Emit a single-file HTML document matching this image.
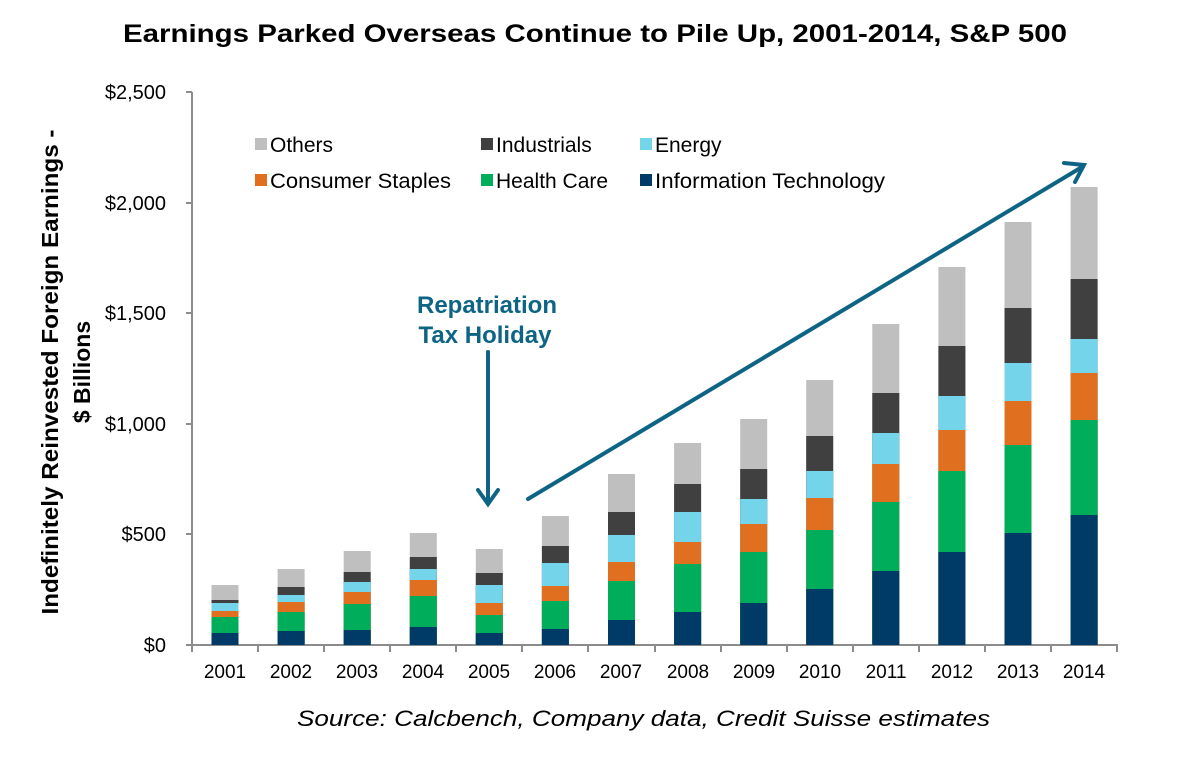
<!DOCTYPE html>
<html><head><meta charset="utf-8"><style>
body{margin:0;background:#fff;}
svg{display:block;font-family:"Liberation Sans",Arial,sans-serif;}
</style></head><body>
<svg width="1186" height="760" viewBox="0 0 1186 760" xmlns="http://www.w3.org/2000/svg">
<text x="123" y="42" font-size="25" font-weight="bold" textLength="944" lengthAdjust="spacingAndGlyphs">Earnings Parked Overseas Continue to Pile Up, 2001-2014, S&amp;P 500</text>
<g font-size="20" text-anchor="end">
<text x="166" y="652">$0</text><text x="166" y="541">$500</text><text x="166" y="431">$1,000</text>
<text x="166" y="320">$1,500</text><text x="166" y="210">$2,000</text><text x="166" y="99">$2,500</text>
</g>
<g transform="translate(58,372) rotate(-90)" font-size="23" font-weight="bold" text-anchor="middle">
<text x="0" y="0" textLength="485" lengthAdjust="spacingAndGlyphs">Indefinitely Reinvested Foreign Earnings -</text>
<text x="0" y="32">$ Billions</text>
</g>
<g stroke="#8c8c8c" stroke-width="2" fill="none">
<line x1="192" y1="92" x2="192" y2="646"/>
<line x1="191" y1="645" x2="1118" y2="645"/>
<line x1="186" y1="92" x2="192" y2="92"/><line x1="186" y1="203" x2="192" y2="203"/>
<line x1="186" y1="313" x2="192" y2="313"/><line x1="186" y1="424" x2="192" y2="424"/>
<line x1="186" y1="534" x2="192" y2="534"/><line x1="186" y1="645" x2="192" y2="645"/>
<line x1="192" y1="645" x2="192" y2="652"/><line x1="258" y1="645" x2="258" y2="652"/>
<line x1="324" y1="645" x2="324" y2="652"/><line x1="390" y1="645" x2="390" y2="652"/>
<line x1="456" y1="645" x2="456" y2="652"/><line x1="522" y1="645" x2="522" y2="652"/>
<line x1="588" y1="645" x2="588" y2="652"/><line x1="655" y1="645" x2="655" y2="652"/>
<line x1="721" y1="645" x2="721" y2="652"/><line x1="787" y1="645" x2="787" y2="652"/>
<line x1="853" y1="645" x2="853" y2="652"/><line x1="919" y1="645" x2="919" y2="652"/>
<line x1="985" y1="645" x2="985" y2="652"/><line x1="1051" y1="645" x2="1051" y2="652"/>
<line x1="1117" y1="645" x2="1117" y2="652"/>
</g>
<!-- bars: layered from bottom of stack order; each rect to baseline -->
<g>
<g transform="translate(211.5,0)"><rect y="585" width="27" height="60" fill="#bfbfbf"/><rect y="600" width="27" height="45" fill="#404040"/><rect y="603" width="27" height="42" fill="#74d4ea"/><rect y="611" width="27" height="34" fill="#e07020"/><rect y="617" width="27" height="28" fill="#00ad5a"/><rect y="633" width="27" height="12" fill="#003a66"/></g>
<g transform="translate(277.6,0)"><rect y="569" width="27" height="76" fill="#bfbfbf"/><rect y="587" width="27" height="58" fill="#404040"/><rect y="595" width="27" height="50" fill="#74d4ea"/><rect y="602" width="27" height="43" fill="#e07020"/><rect y="612" width="27" height="33" fill="#00ad5a"/><rect y="631" width="27" height="14" fill="#003a66"/></g>
<g transform="translate(343.7,0)"><rect y="551" width="27" height="94" fill="#bfbfbf"/><rect y="572" width="27" height="73" fill="#404040"/><rect y="582" width="27" height="63" fill="#74d4ea"/><rect y="592" width="27" height="53" fill="#e07020"/><rect y="604" width="27" height="41" fill="#00ad5a"/><rect y="630" width="27" height="15" fill="#003a66"/></g>
<g transform="translate(409.8,0)"><rect y="533" width="27" height="112" fill="#bfbfbf"/><rect y="557" width="27" height="88" fill="#404040"/><rect y="569" width="27" height="76" fill="#74d4ea"/><rect y="580" width="27" height="65" fill="#e07020"/><rect y="596" width="27" height="49" fill="#00ad5a"/><rect y="627" width="27" height="18" fill="#003a66"/></g>
<g transform="translate(475.8,0)"><rect y="549" width="27" height="96" fill="#bfbfbf"/><rect y="573" width="27" height="72" fill="#404040"/><rect y="585" width="27" height="60" fill="#74d4ea"/><rect y="603" width="27" height="42" fill="#e07020"/><rect y="615" width="27" height="30" fill="#00ad5a"/><rect y="633" width="27" height="12" fill="#003a66"/></g>
<g transform="translate(541.9,0)"><rect y="516" width="27" height="129" fill="#bfbfbf"/><rect y="546" width="27" height="99" fill="#404040"/><rect y="563" width="27" height="82" fill="#74d4ea"/><rect y="586" width="27" height="59" fill="#e07020"/><rect y="601" width="27" height="44" fill="#00ad5a"/><rect y="629" width="27" height="16" fill="#003a66"/></g>
<g transform="translate(608,0)"><rect y="474" width="27" height="171" fill="#bfbfbf"/><rect y="512" width="27" height="133" fill="#404040"/><rect y="535" width="27" height="110" fill="#74d4ea"/><rect y="562" width="27" height="83" fill="#e07020"/><rect y="581" width="27" height="64" fill="#00ad5a"/><rect y="620" width="27" height="25" fill="#003a66"/></g>
<g transform="translate(674.1,0)"><rect y="443" width="27" height="202" fill="#bfbfbf"/><rect y="484" width="27" height="161" fill="#404040"/><rect y="512" width="27" height="133" fill="#74d4ea"/><rect y="542" width="27" height="103" fill="#e07020"/><rect y="564" width="27" height="81" fill="#00ad5a"/><rect y="612" width="27" height="33" fill="#003a66"/></g>
<g transform="translate(740.2,0)"><rect y="419" width="27" height="226" fill="#bfbfbf"/><rect y="469" width="27" height="176" fill="#404040"/><rect y="499" width="27" height="146" fill="#74d4ea"/><rect y="524" width="27" height="121" fill="#e07020"/><rect y="552" width="27" height="93" fill="#00ad5a"/><rect y="603" width="27" height="42" fill="#003a66"/></g>
<g transform="translate(806.2,0)"><rect y="380" width="27" height="265" fill="#bfbfbf"/><rect y="436" width="27" height="209" fill="#404040"/><rect y="471" width="27" height="174" fill="#74d4ea"/><rect y="498" width="27" height="147" fill="#e07020"/><rect y="530" width="27" height="115" fill="#00ad5a"/><rect y="589" width="27" height="56" fill="#003a66"/></g>
<g transform="translate(872.3,0)"><rect y="324" width="27" height="321" fill="#bfbfbf"/><rect y="393" width="27" height="252" fill="#404040"/><rect y="433" width="27" height="212" fill="#74d4ea"/><rect y="464" width="27" height="181" fill="#e07020"/><rect y="502" width="27" height="143" fill="#00ad5a"/><rect y="571" width="27" height="74" fill="#003a66"/></g>
<g transform="translate(938.4,0)"><rect y="267" width="27" height="378" fill="#bfbfbf"/><rect y="346" width="27" height="299" fill="#404040"/><rect y="396" width="27" height="249" fill="#74d4ea"/><rect y="430" width="27" height="215" fill="#e07020"/><rect y="471" width="27" height="174" fill="#00ad5a"/><rect y="552" width="27" height="93" fill="#003a66"/></g>
<g transform="translate(1004.5,0)"><rect y="222" width="27" height="423" fill="#bfbfbf"/><rect y="308" width="27" height="337" fill="#404040"/><rect y="363" width="27" height="282" fill="#74d4ea"/><rect y="401" width="27" height="244" fill="#e07020"/><rect y="445" width="27" height="200" fill="#00ad5a"/><rect y="533" width="27" height="112" fill="#003a66"/></g>
<g transform="translate(1070.6,0)"><rect y="187" width="27" height="458" fill="#bfbfbf"/><rect y="279" width="27" height="366" fill="#404040"/><rect y="339" width="27" height="306" fill="#74d4ea"/><rect y="373" width="27" height="272" fill="#e07020"/><rect y="420" width="27" height="225" fill="#00ad5a"/><rect y="515" width="27" height="130" fill="#003a66"/></g>
</g>
<g font-size="19" text-anchor="middle">
<text x="225" y="678">2001</text><text x="291" y="678">2002</text><text x="357" y="678">2003</text><text x="423" y="678">2004</text>
<text x="489" y="678">2005</text><text x="555" y="678">2006</text><text x="621" y="678">2007</text><text x="688" y="678">2008</text>
<text x="754" y="678">2009</text><text x="820" y="678">2010</text><text x="886" y="678">2011</text><text x="952" y="678">2012</text>
<text x="1018" y="678">2013</text><text x="1084" y="678">2014</text>
</g>
<g font-size="21">
<rect x="255" y="138" width="12" height="12" fill="#bfbfbf"/><text x="270" y="152">Others</text>
<rect x="481" y="138" width="12" height="12" fill="#404040"/><text x="496" y="152">Industrials</text>
<rect x="640" y="138" width="12" height="12" fill="#74d4ea"/><text x="655" y="152">Energy</text>
<rect x="255" y="174" width="12" height="12" fill="#e07020"/><text x="270" y="188" textLength="181" lengthAdjust="spacingAndGlyphs">Consumer Staples</text>
<rect x="481" y="174" width="12" height="12" fill="#00ad5a"/><text x="496" y="188">Health Care</text>
<rect x="640" y="174" width="12" height="12" fill="#003a66"/><text x="655" y="188" textLength="230" lengthAdjust="spacingAndGlyphs">Information Technology</text>
</g>
<g fill="#0e6485" font-size="24" font-weight="bold" text-anchor="middle">
<text x="487" y="313">Repatriation</text><text x="485" y="343">Tax Holiday</text>
</g>
<g stroke="#0e6485" stroke-width="4" fill="none" stroke-linecap="round">
<line x1="488" y1="352" x2="488" y2="503"/>
<polyline points="478,490 488,504 498,490"/>
<line x1="528" y1="499" x2="1082" y2="167"/>
<polyline points="1064,163 1084,165 1075,182"/>
</g>
<text x="297" y="726" font-size="22" font-style="italic" textLength="693" lengthAdjust="spacingAndGlyphs">Source: Calcbench, Company data, Credit Suisse estimates</text>
</svg>
</body></html>
